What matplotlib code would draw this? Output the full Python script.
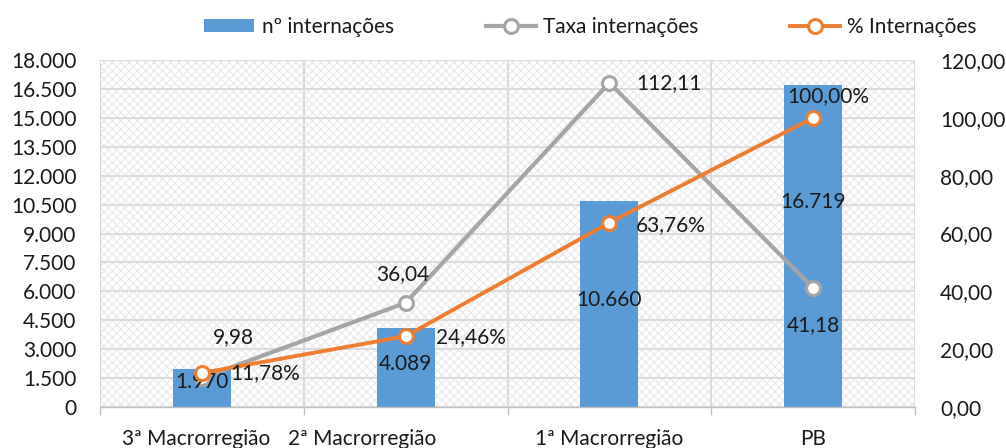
import numpy as np
import matplotlib
matplotlib.use("Agg")
import matplotlib.pyplot as plt
from matplotlib.patches import Rectangle
from matplotlib.ticker import FuncFormatter
import matplotlib.transforms as mtransforms

plt.rcParams['font.family'] = ['Lato', 'DejaVu Sans']
plt.rcParams['hatch.linewidth'] = 1.0

regioes = ['3ª Macrorregião', '2ª Macrorregião', '1ª Macrorregião', 'PB']
n_internacoes = [1970, 4089, 10660, 16719]
taxa_internacoes = [9.98, 36.04, 112.11, 41.18]
pct_internacoes = [11.78, 24.46, 63.76, 100.00]

azul = '#5B9BD5'
cinza = '#A5A5A5'
laranja = '#ED7D31'
txt = '#1a1a1a'
fs = 15


def br_milhar(v, pos=None):
    return f"{int(round(v)):,}".replace(',', '.')


def br_dec(v, pos=None):
    return f"{v:.2f}".replace('.', ',')


fig = plt.figure(figsize=(10.06, 4.48), dpi=100)
ax = fig.add_axes([100 / 1006, 41 / 448, 815 / 1006, 347 / 448])
x = np.arange(len(regioes))

# fundo com textura
ax.add_patch(Rectangle((0, 0), 1, 1, transform=ax.transAxes, facecolor='white',
                       edgecolor='#EBEBEB', hatch='xxxx', linewidth=0, zorder=0))

ax.set_xlim(-0.5, 3.5)
ax.set_ylim(0, 18000)
ax.set_yticks(np.arange(0, 18001, 1500))
ax.yaxis.set_major_formatter(FuncFormatter(br_milhar))
ax.grid(axis='y', color='#D9D9D9', linewidth=1.3, zorder=1)
ax.set_xticks(np.arange(-0.5, 3.6, 1), minor=True)
ax.grid(axis='x', which='minor', color='#D9D9D9', linewidth=1.3, zorder=1)
ax.set_axisbelow(True)

barras = ax.bar(x, n_internacoes, width=0.285, color=azul, zorder=2, label='nº internações')

ax.set_xticks(x)
ax.set_xticklabels(regioes, fontsize=fs, color=txt)
ax.tick_params(axis='x', which='major', length=0, pad=16)
ax.tick_params(axis='x', which='minor', length=6, color='#BFBFBF', width=1)
ax.tick_params(axis='y', length=0, pad=17, labelsize=fs, labelcolor=txt)
# rótulos do eixo x deslocados como no original
desloc = [-6, -43, 0, 0]
for lab, dx in zip(ax.get_xticklabels(), desloc):
    lab.set_transform(lab.get_transform() + mtransforms.ScaledTranslation(dx / 100, 0, fig.dpi_scale_trans))

for s in ['top', 'left', 'right']:
    ax.spines[s].set_visible(False)
ax.spines['bottom'].set_color('#BFBFBF')
ax.spines['bottom'].set_linewidth(1)

ax2 = ax.twinx()
ax2.set_ylim(0, 120)
ax2.set_yticks(np.arange(0, 121, 20))
ax2.yaxis.set_major_formatter(FuncFormatter(br_dec))
ax2.tick_params(axis='y', length=0, pad=18, labelsize=fs, labelcolor=txt)
for s in ax2.spines.values():
    s.set_visible(False)

ax2.plot(x, taxa_internacoes, color=cinza, linewidth=3, marker='o', markersize=10,
         markerfacecolor='white', markeredgecolor=cinza, markeredgewidth=2.2,
         label='Taxa internações', zorder=3)
ax2.plot(x, pct_internacoes, color=laranja, linewidth=2.8, marker='o', markersize=10,
         markerfacecolor='white', markeredgecolor=laranja, markeredgewidth=2.2,
         label='% Internações', zorder=4)

# rótulos de dados (barras ficam entre a linha cinza e a laranja)
sobe_barra = [6, 4, 4, 44]
for xi, v, dy in zip(x, n_internacoes, sobe_barra):
    ax2.annotate(br_milhar(v), (xi, v / 2 * 120 / 18000), xytext=(0, dy), textcoords='offset pixels',
                 ha='center', va='center', fontsize=fs, color=txt, zorder=3.5)

off_taxa = [(32, 41), (-3, 29), (60, 0), (0, -37)]
for xi, v, (dx, dy) in zip(x, taxa_internacoes, off_taxa):
    ax2.annotate(br_dec(v), (xi, v), xytext=(dx, dy), textcoords='offset pixels',
                 ha='center', va='center', fontsize=fs, color=txt, zorder=6)

off_pct = [(63, 0), (65, -1), (61, -2), (15, 22)]
for xi, v, (dx, dy) in zip(x, pct_internacoes, off_pct):
    ax2.annotate(br_dec(v) + '%', (xi, v), xytext=(dx, dy), textcoords='offset pixels',
                 ha='center', va='center', fontsize=fs, color=txt, zorder=6)

h1, l1 = ax.get_legend_handles_labels()
h2, l2 = ax2.get_legend_handles_labels()
fig.legend(h1 + h2, l1 + l2, loc='center', bbox_to_anchor=(0.587, 0.94), ncol=3,
           frameon=False, fontsize=fs, handlelength=2.4, handleheight=0.6,
           handletextpad=0.35, columnspacing=4.4, labelcolor=txt)

fig.savefig('out.png', dpi=100)
